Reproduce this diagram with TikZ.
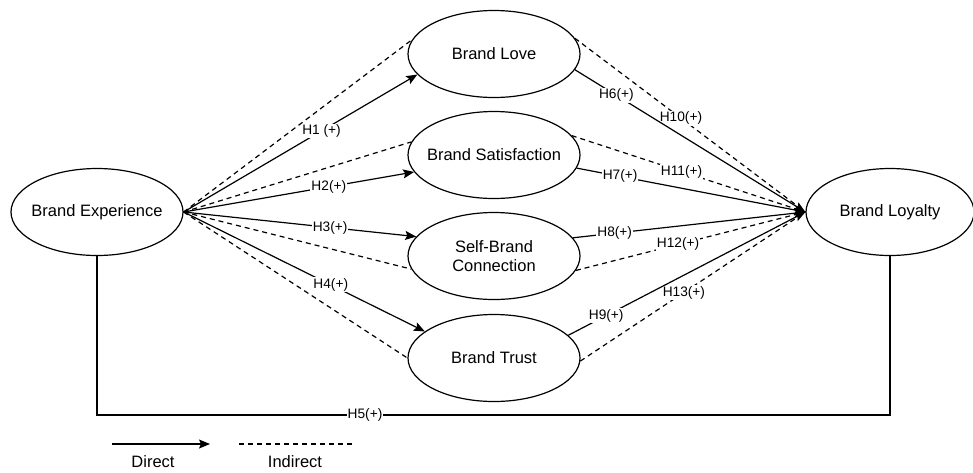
\documentclass[tikz,border=0pt]{standalone}
\usepackage{fontspec}
\setmainfont{Liberation Sans}
\usetikzlibrary{arrows.meta,shapes.geometric}
\begin{document}
\begin{tikzpicture}[x=1pt,y=-1pt,
 ell/.style={ellipse,draw,line width=1.2pt,minimum width=172pt,minimum height=87pt,inner xsep=-30pt,inner ysep=-10pt,align=center,font=\fontsize{16.5}{19}\selectfont},
 dir/.style={line width=1.2pt,-{Stealth[length=11pt,width=9pt,inset=2pt]}},
 ind/.style={line width=1.2pt,dash pattern=on 5pt off 4pt},
 plain/.style={line width=1.2pt},
 lbl/.style={fill=white,inner sep=1pt,font=\fontsize{13.7}{15}\selectfont},
 leg/.style={font=\fontsize{16.5}{19}\selectfont}]
\useasboundingbox (0,0) rectangle (973,472);

\node[ell] (BE) at (97,212) {Brand Experience};
\node[ell,minimum width=168pt] (BL) at (890,212) {Brand Loyalty};
\node[ell] (LOV) at (494,54) {Brand Love};
\node[ell] (SAT) at (494,155) {Brand Satisfaction};
\node[ell] (SBC) at (494,256) {Self-Brand\\Connection};
\node[ell] (TRU) at (494,358) {Brand Trust};

% indirect from BE
\draw[ind] (BE.east) -- (LOV.170);
\draw[ind] (BE.east) -- (SAT.171);
\draw[ind] (BE.east) -- (SBC.189);
\draw[ind] (BE.east) -- (TRU.180);

% direct from BE
\draw[dir] (BE.east) -- node[lbl,pos=0.59] {H1 (+)} (LOV.195);
\draw[dir] (BE.east) -- node[lbl,pos=0.63] {H2(+)} (SAT.192);
\draw[dir] (BE.east) -- node[lbl,pos=0.63] {H3(+)} (SBC.166);
\draw[dir] (BE.east) -- node[lbl,pos=0.61] {H4(+)} (TRU.159);

% indirect to BL
\draw[ind] (LOV.11) -- node[lbl,pos=0.46] {H10(+)} (BL.west);
\draw[ind] (SAT.14) -- node[lbl,pos=0.47] {H11(+)} (BL.west);
\draw[ind] (SBC.350) -- node[lbl,pos=0.445] {H12(+)} (BL.west);
\draw[ind] (TRU.358) -- node[lbl,pos=0.46] {H13(+)} (BL.west);

% direct to BL
\draw[dir] (LOV.349) -- node[lbl,pos=0.18] {H6(+)} (BL.west);
\draw[dir] (SAT.351) -- node[lbl,pos=0.19] {H7(+)} (BL.west);
\draw[dir] (SBC.13) -- node[lbl,pos=0.18] {H8(+)} (BL.west);
\draw[dir] (TRU.17) -- node[lbl,pos=0.16] {H9(+)} (BL.west);

% H5
\coordinate (h5) at (365,415);
\draw[plain] (BE.south) |- (h5) -| (BL.south);
\node[lbl] at (h5) {H5(+)};

% legend
\coordinate (d1) at (112,444);
\coordinate (d2) at (210,444);
\coordinate (i1) at (239,444);
\coordinate (i2) at (353,444);
\draw[dir] (d1) -- (d2);
\draw[ind] (i1) -- (i2);
\node[leg] (ld) at (153,462) {Direct};
\node[leg] (li) at (295,462) {Indirect};
\end{tikzpicture}
\end{document}
